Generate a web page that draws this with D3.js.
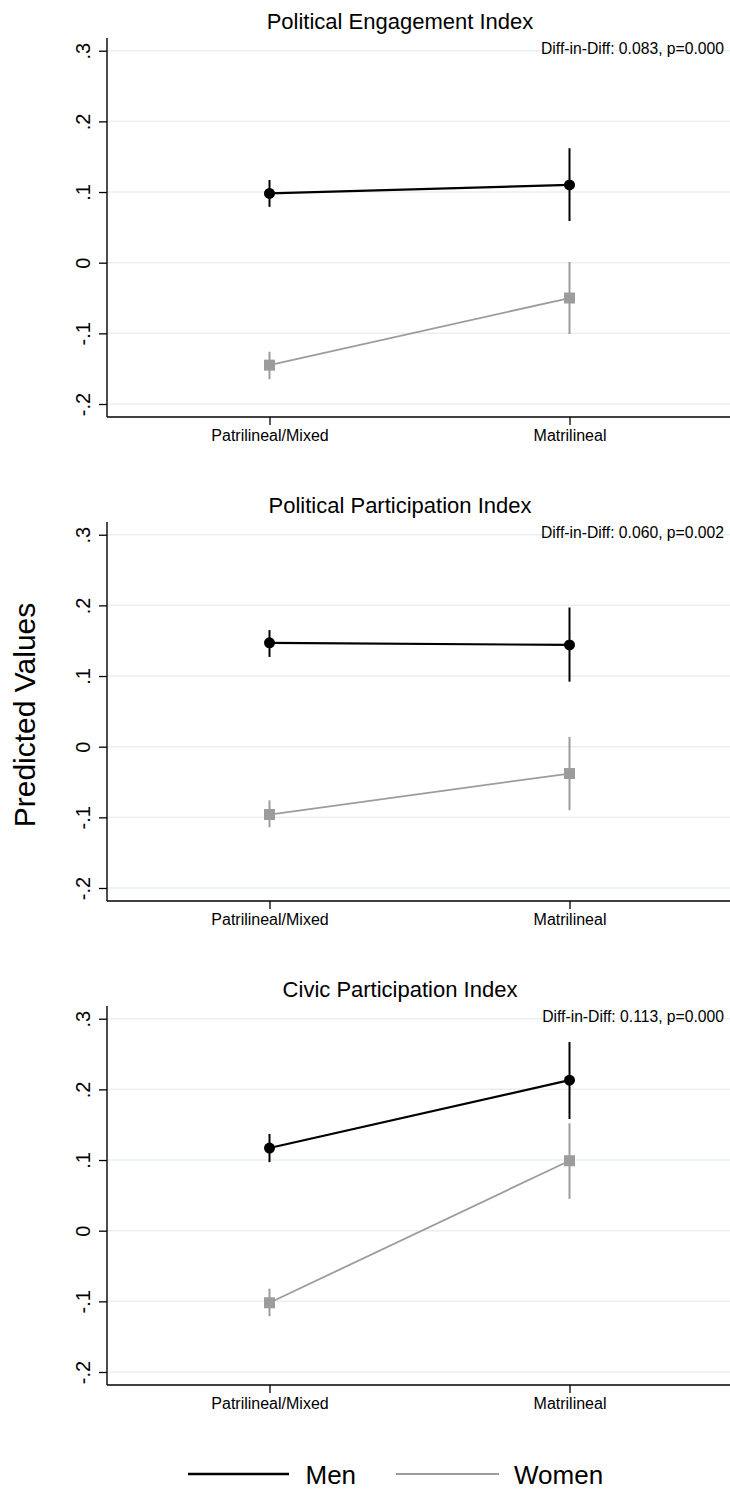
<!DOCTYPE html>
<html>
<head>
<meta charset="utf-8">
<script src="https://cdn.jsdelivr.net/npm/d3@7"></script>
<style>
  html, body { margin: 0; padding: 0; background: #fff; }
  svg { display: block; font-family: "Liberation Sans", Arial, Helvetica, sans-serif; }
</style>
</head>
<body>
<svg id="chart" width="730" height="1489"></svg>
<script>
const categories = ["Patrilineal/Mixed", "Matrilineal"];
const panelTitles = ["Political Engagement Index", "Political Participation Index", "Civic Participation Index"];
const diffLabels = ["Diff-in-Diff: 0.083, p=0.000", "Diff-in-Diff: 0.060, p=0.002", "Diff-in-Diff: 0.113, p=0.000"];
const yTicks = [-0.2, -0.1, 0, 0.1, 0.2, 0.3];
const yTickLabels = ["-.2", "-.1", "0", ".1", ".2", ".3"];
const seriesNames = ["Men", "Women"];

// estimates and 95% CIs, [panel][category]
const menEst   = [[0.098, 0.110], [0.147, 0.144], [0.117, 0.213]];
const menLo    = [[0.079, 0.059], [0.127, 0.092], [0.097, 0.158]];
const menHi    = [[0.117, 0.162], [0.165, 0.197], [0.137, 0.267]];
const womenEst = [[-0.145, -0.050], [-0.096, -0.038], [-0.102, 0.099]];
const womenLo  = [[-0.165, -0.101], [-0.114, -0.090], [-0.121, 0.045]];
const womenHi  = [[-0.126, 0.001], [-0.076, 0.014], [-0.082, 0.152]];

const svg = d3.select("#chart");
const FONT = '"Liberation Sans", Arial, Helvetica, sans-serif';
const colors = { Men: "#000000", Women: "#9c9c9c" };

const panelStep = 484;
const plotLeft = 107, plotRight = 730, plotTop = 38, plotBottom = 417;

const x = d3.scaleLinear().domain([0, 1]).range([269.5, 569.5]);

panelTitles.forEach((title, k) => {
  const dy = panelStep * k;
  const g = svg.append("g").attr("transform", `translate(0,${dy})`);
  const y = d3.scaleLinear().domain([-0.2184, 0.318]).range([plotBottom, plotTop]);

  // gridlines
  g.selectAll("line.grid").data(yTicks).enter().append("line")
    .attr("x1", plotLeft).attr("x2", plotRight)
    .attr("y1", d => y(d)).attr("y2", d => y(d))
    .attr("stroke", "#e9eff1").attr("stroke-width", 1.5);

  // y axis
  const yAxis = d3.axisLeft(y).tickValues(yTicks)
    .tickFormat((d, i) => yTickLabels[i]).tickSizeInner(8).tickSizeOuter(0);
  const ya = g.append("g").attr("transform", `translate(${plotLeft},0)`).call(yAxis);
  ya.select(".domain").remove();
  ya.selectAll(".tick line").attr("stroke", "#000").attr("stroke-width", 1.3);
  ya.selectAll(".tick text")
    .attr("x", null).attr("dy", null)
    .attr("transform", "translate(-17,0) rotate(-90)")
    .attr("text-anchor", "middle")
    .attr("font-family", FONT).attr("font-size", 20).attr("fill", "#000");
  g.append("line").attr("x1", plotLeft).attr("x2", plotLeft)
    .attr("y1", plotTop).attr("y2", plotBottom)
    .attr("stroke", "#000").attr("stroke-width", 1.4);

  // x axis
  const xAxis = d3.axisBottom(x).tickValues([0, 1])
    .tickFormat((d, i) => categories[i]).tickSizeInner(8).tickSizeOuter(0);
  const xa = g.append("g").attr("transform", `translate(0,${plotBottom})`).call(xAxis);
  xa.select(".domain").remove();
  xa.selectAll(".tick line").attr("stroke", "#000").attr("stroke-width", 1.3);
  xa.selectAll(".tick text").attr("y", 24).attr("dy", null)
    .attr("font-family", FONT).attr("font-size", 16).attr("fill", "#000");
  g.append("line").attr("x1", plotLeft).attr("x2", plotRight)
    .attr("y1", plotBottom).attr("y2", plotBottom)
    .attr("stroke", "#000").attr("stroke-width", 1.4);

  // title
  g.append("text").attr("x", 400).attr("y", 28.5)
    .attr("text-anchor", "middle").attr("font-family", FONT)
    .attr("font-size", 22).attr("fill", "#000").text(title);

  // diff-in-diff note
  g.append("text").attr("x", 724).attr("y", 53.5)
    .attr("text-anchor", "end").attr("font-family", FONT)
    .attr("font-size", 15.7).attr("fill", "#000").text(diffLabels[k]);

  const series = [
    { name: "Women", est: womenEst[k], lo: womenLo[k], hi: womenHi[k] },
    { name: "Men", est: menEst[k], lo: menLo[k], hi: menHi[k] }
  ];

  series.forEach(s => {
    const col = colors[s.name];
    const pts = s.est.map((v, i) => ({ i, v, lo: s.lo[i], hi: s.hi[i] }));
    // error bars
    g.selectAll(null).data(pts).enter().append("line")
      .attr("x1", d => x(d.i)).attr("x2", d => x(d.i))
      .attr("y1", d => y(d.lo)).attr("y2", d => y(d.hi))
      .attr("stroke", col).attr("stroke-width", 2);
    // connecting line
    g.append("path").datum(pts)
      .attr("d", d3.line().x(d => x(d.i)).y(d => y(d.v)))
      .attr("fill", "none").attr("stroke", col)
      .attr("stroke-width", s.name === "Men" ? 2.2 : 1.8);
    // markers
    if (s.name === "Men") {
      g.selectAll(null).data(pts).enter().append("circle")
        .attr("cx", d => x(d.i)).attr("cy", d => y(d.v)).attr("r", 5.5)
        .attr("fill", col);
    } else {
      g.selectAll(null).data(pts).enter().append("rect")
        .attr("x", d => x(d.i) - 5.5).attr("y", d => y(d.v) - 5.5)
        .attr("width", 11).attr("height", 11).attr("fill", col);
    }
  });
});

// shared y-axis title
svg.append("text")
  .attr("transform", "translate(35,715) rotate(-90)")
  .attr("text-anchor", "middle").attr("font-family", FONT)
  .attr("font-size", 30).attr("fill", "#000").text("Predicted Values");

// legend
const legendItems = [
  { name: seriesNames[0], x1: 188, x2: 289, tx: 305.5 },
  { name: seriesNames[1], x1: 396, x2: 499, tx: 514 }
];
const lg = svg.append("g");
legendItems.forEach(it => {
  lg.append("line").attr("x1", it.x1).attr("x2", it.x2)
    .attr("y1", 1474).attr("y2", 1474)
    .attr("stroke", colors[it.name]).attr("stroke-width", it.name === "Men" ? 2.6 : 2.2);
  lg.append("text").attr("x", it.tx).attr("y", 1483.5)
    .attr("font-family", FONT).attr("font-size", 26).attr("fill", "#000").text(it.name);
});
</script>
</body>
</html>
